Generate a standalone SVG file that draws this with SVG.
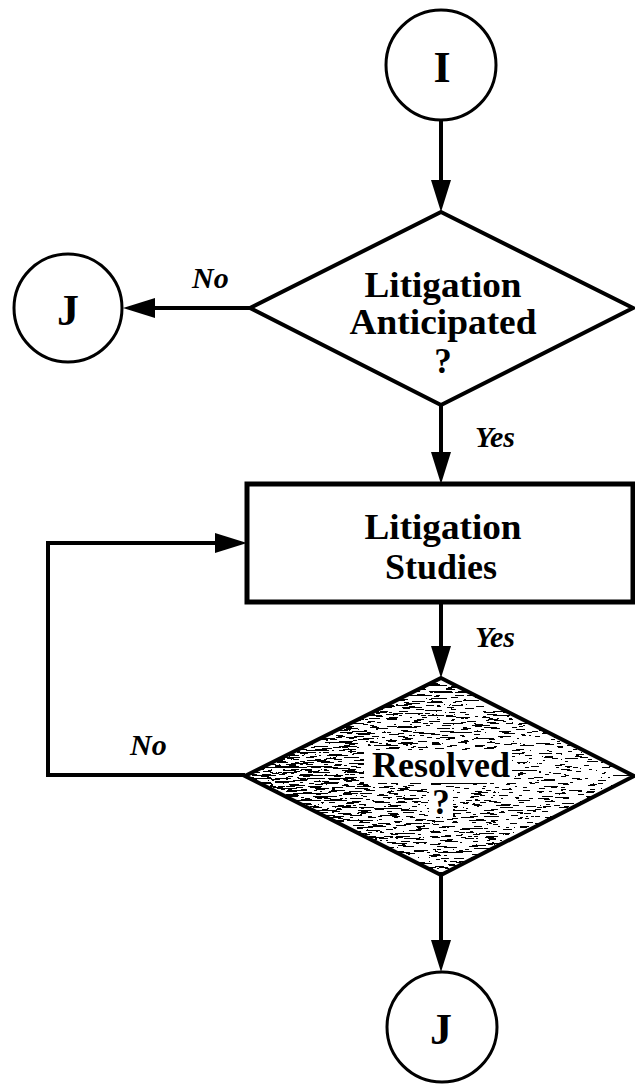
<svg xmlns="http://www.w3.org/2000/svg" width="635" height="1089" viewBox="0 0 635 1089">
  <style>
    .ln { fill: none; stroke: #000; stroke-width: 4; stroke-linejoin: miter; }
    .circ { fill: #fff; stroke: #000; stroke-width: 3; }
    .dia { fill: #fff; stroke: #000; stroke-width: 4; stroke-linejoin: miter; }
    .outline { fill: none; stroke: #000; stroke-width: 4; stroke-linejoin: miter; }
    .box { fill: #fff; stroke: #000; stroke-width: 5; }
    .t { font-family: "Liberation Serif", "Times New Roman", serif; font-weight: bold; font-size: 35px; text-anchor: middle; fill: #000; }
    .big { font-family: "Liberation Serif", "Times New Roman", serif; font-weight: bold; font-size: 44px; text-anchor: middle; fill: #000; }
    .lbl { font-family: "Liberation Serif", "Times New Roman", serif; font-style: italic; font-weight: bold; font-size: 30px; fill: #000; }
  </style>
  <defs>
    <marker id="arrow" viewBox="0 0 32 20" refX="24" refY="10" markerWidth="32" markerHeight="20" markerUnits="userSpaceOnUse" orient="auto">
      <path d="M0,0 L32,10 L0,20 Z" fill="#000"/>
    </marker>
    <linearGradient id="shade" x1="0" y1="0" x2="1" y2="0">
      <stop offset="0" stop-color="#909090"/>
      <stop offset="0.4" stop-color="#c4c4c4"/>
      <stop offset="1" stop-color="#f8f8f8"/>
    </linearGradient>
    <filter id="halftone" x="0" y="0" width="1" height="1" color-interpolation-filters="sRGB">
      <feTurbulence type="fractalNoise" baseFrequency="0.07 0.6" numOctaves="3" seed="7" result="noise"/>
      <feColorMatrix in="noise" type="matrix" values="2.5 0 0 0 -0.75  2.5 0 0 0 -0.75  2.5 0 0 0 -0.75  0 0 0 0 1" result="n"/>
      <feComposite in="n" in2="SourceGraphic" operator="arithmetic" k1="0" k2="6" k3="6" k4="-6" result="c"/>
      <feComponentTransfer in="c">
        <feFuncR type="discrete" tableValues="0 1"/>
        <feFuncG type="discrete" tableValues="0 1"/>
        <feFuncB type="discrete" tableValues="0 1"/>
      </feComponentTransfer>
    </filter>
  </defs>

  <rect x="0" y="0" width="635" height="1089" fill="#fff"/>

  <g id="connectors">
    <line class="ln" x1="441" y1="120" x2="441" y2="204" marker-end="url(#arrow)"/>
    <line class="ln" x1="250" y1="308" x2="131" y2="308" marker-end="url(#arrow)"/>
    <line class="ln" x1="441" y1="405" x2="441" y2="476" marker-end="url(#arrow)"/>
    <line class="ln" x1="441" y1="602" x2="441" y2="670" marker-end="url(#arrow)"/>
    <polyline class="ln" points="245,775 48,775 48,543 239,543" marker-end="url(#arrow)"/>
    <line class="ln" x1="441" y1="875" x2="441" y2="964" marker-end="url(#arrow)"/>
    <text class="lbl" x="192" y="288">No</text>
    <text class="lbl" x="475" y="447">Yes</text>
    <text class="lbl" x="475" y="647">Yes</text>
    <text class="lbl" x="130" y="755">No</text>
  </g>

  <g id="node-I">
    <circle class="circ" cx="441" cy="65" r="55"/>
    <text class="big" x="442" y="82">I</text>
  </g>

  <g id="node-litigation-anticipated">
    <polygon class="dia" points="441,212 633,308 441,405 250,308"/>
    <text class="t" x="443" y="297" textLength="157" lengthAdjust="spacingAndGlyphs">Litigation</text>
    <text class="t" x="443" y="334" textLength="187" lengthAdjust="spacingAndGlyphs">Anticipated</text>
    <text class="t" x="443" y="373">?</text>
  </g>

  <g id="node-J-left">
    <circle class="circ" cx="68" cy="308" r="54"/>
    <text class="big" x="68" y="325">J</text>
  </g>

  <g id="node-litigation-studies">
    <rect class="box" x="247" y="484" width="386" height="118"/>
    <text class="t" x="443" y="539" textLength="157" lengthAdjust="spacingAndGlyphs">Litigation</text>
    <text class="t" x="441" y="579" textLength="112" lengthAdjust="spacingAndGlyphs">Studies</text>
  </g>

  <g id="node-resolved">
    <polygon points="441,678 634,776 441,875 245,776" fill="url(#shade)" filter="url(#halftone)"/>
    <rect x="364" y="750" width="148" height="33" fill="#fff"/>
    <rect x="429" y="787" width="24" height="30" fill="#fff"/>
    <polygon class="outline" points="441,678 634,776 441,875 245,776"/>
    <text class="t" x="441" y="777" textLength="138" lengthAdjust="spacingAndGlyphs">Resolved</text>
    <text class="t" x="441" y="814">?</text>
  </g>

  <g id="node-J-bottom">
    <circle class="circ" cx="442" cy="1027" r="55"/>
    <text class="big" x="441" y="1044">J</text>
  </g>
</svg>
